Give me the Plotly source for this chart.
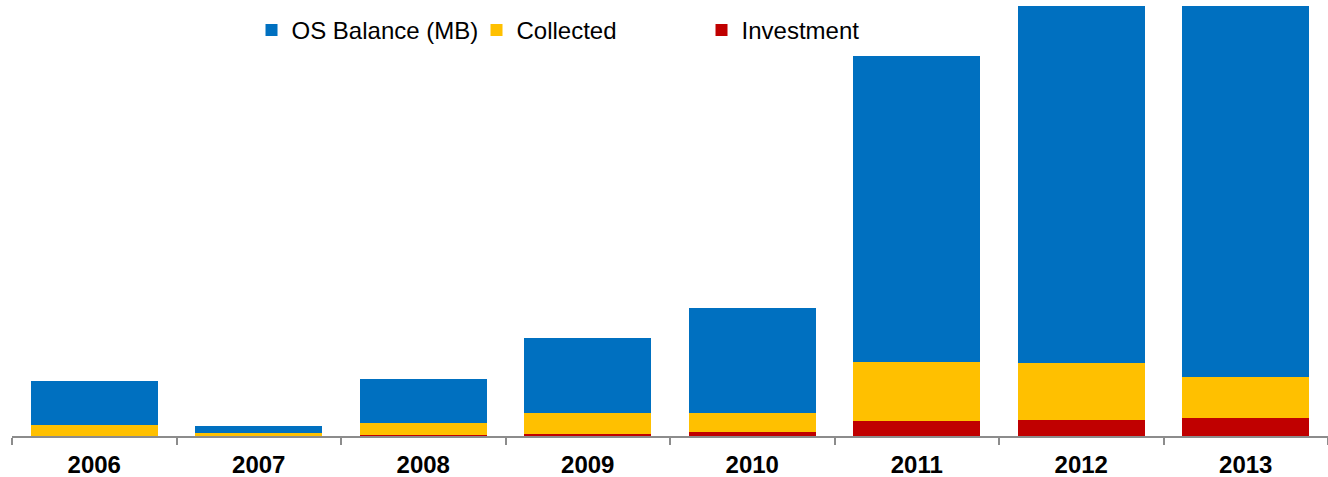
import plotly.graph_objects as go

years = ["2006", "2007", "2008", "2009", "2010", "2011", "2012", "2013"]
investment = [0.5, 0.3, 1, 2, 4, 15, 16, 18]
collected = [10.5, 2.7, 12, 21, 19, 59, 57, 41]
os_balance = [44, 7, 44, 75, 105, 306, 390, 400]

fig = go.Figure()
fig.add_trace(go.Bar(x=years, y=investment, name="Investment", marker=dict(color="#C00000", line=dict(width=0))))
fig.add_trace(go.Bar(x=years, y=collected, name="Collected", marker=dict(color="#FFC000", line=dict(width=0))))
fig.add_trace(go.Bar(x=years, y=os_balance, name="OS Balance (MB)", marker=dict(color="#0070C0", line=dict(width=0))))

fig.update_layout(
    barmode="stack",
    bargap=0.23,
    width=1328, height=477,
    plot_bgcolor="white", paper_bgcolor="white",
    margin=dict(l=12, r=0, t=6, b=41),
    font=dict(family="Liberation Sans, Arial, sans-serif", size=20, color="black"),
    showlegend=True,
    legend=dict(orientation="h", traceorder="reversed", x=0.182, xanchor="left",
                y=0.943, yanchor="middle", bgcolor="rgba(0,0,0,0)",
                entrywidth=180, itemwidth=30,
                font=dict(size=24)),
)
fig.update_xaxes(
    automargin=False,
    showline=True, linecolor="#8C8C8C", linewidth=1.5,
    ticks="outside", tickson="boundaries", ticklen=7, tickcolor="#8C8C8C", tickwidth=1.5,
    ticklabelstandoff=6,
    tickfont=dict(size=24, family="Liberation Sans, Arial, sans-serif", weight="bold"),
    showgrid=False,
)
fig.update_yaxes(visible=False, range=[0, 430])

fig.write_html("out.html", config={"displayModeBar": False},
               post_script="document.body.style.margin='0';")
